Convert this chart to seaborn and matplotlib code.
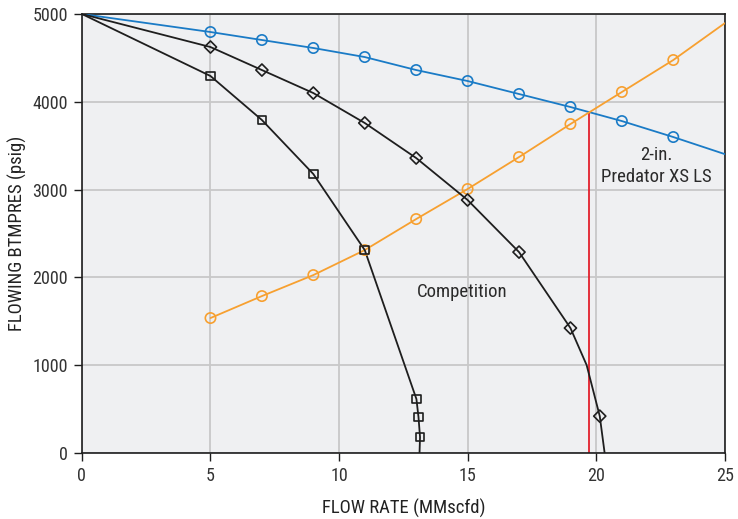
import matplotlib
matplotlib.use("Agg")
import matplotlib.pyplot as plt
import seaborn as sns
import pandas as pd
from matplotlib import font_manager

# ---- data ----
blue_x = [0, 5, 7, 9, 11, 13, 15, 17, 19, 21, 23, 25]
blue_y = [5000, 4795, 4704, 4613, 4510, 4362, 4237, 4089, 3941, 3781, 3599, 3405]
blue_marked = [False, True, True, True, True, True, True, True, True, True, True, False]

orange_x = [5, 7, 9, 11, 13, 15, 17, 19, 21, 23, 25]
orange_y = [1538, 1788, 2027, 2312, 2665, 3007, 3371, 3747, 4112, 4476, 4895]
orange_marked = [True, True, True, True, True, True, True, True, True, True, False]

diamond_x = [0, 5, 7, 9, 11, 13, 15, 17, 19, 19.63, 20.14, 20.33]
diamond_y = [5000, 4624, 4362, 4100, 3759, 3360, 2882, 2289, 1424, 1002, 421, 0]
diamond_marked = [False, True, True, True, True, True, True, True, True, False, True, False]

square_x = [0, 5, 7, 9, 11, 13.01, 13.09, 13.15, 13.13]
square_y = [5000, 4294, 3793, 3178, 2312, 615, 410, 182, 0]
square_marked = [False, True, True, True, True, True, True, True, False]

red_x = [19.73, 19.73]
red_y = [0, 3884]

x_ticks = [0, 5, 10, 15, 20, 25]
y_ticks = [0, 1000, 2000, 3000, 4000, 5000]
x_label = "FLOW RATE (MMscfd)"
y_label = "FLOWING BTMPRES (psig)"
annotations = [("Competition", 14.8, 1840), ("2-in.\nPredator XS LS", 22.35, 3270)]

# ---- style ----
sns.set_theme(style="whitegrid")

# pick a condensed sans font if one is installed
fam, stretch = "Liberation Sans", "normal"
entries = font_manager.fontManager.ttflist
names = {f.name for f in entries}
found = False
for cand in ["Liberation Sans Narrow", "Roboto Condensed", "Open Sans Condensed",
             "Noto Sans Condensed", "DejaVu Sans Condensed"]:
    if cand in names:
        fam, found = cand, True
        break
if not found:
    for f in entries:
        if f.name in ("Roboto", "Noto Sans", "Open Sans", "DejaVu Sans", "Liberation Sans") \
                and str(f.stretch) in ("condensed", "semi-condensed", "500", "400", "300") \
                and f.style == "normal" and f.weight in (400, "normal"):
            fam, stretch = f.name, f.stretch
            found = True
            break
plt.rcParams["font.family"] = [fam, "DejaVu Sans"]
plt.rcParams["font.stretch"] = stretch

BLUE = "#1a7bc6"
ORANGE = "#f7a030"
BLACK = "#1e1e1e"
RED = "#e2202c"

fig = plt.figure(figsize=(7.38, 5.19), dpi=100)
ax = fig.add_axes([0.111, 0.127, 0.871, 0.846])
ax.set_facecolor("#eff0f2")

def series(xs, ys, marked, color, marker, ms):
    df = pd.DataFrame({"x": xs, "y": ys, "m": marked})
    sns.lineplot(data=df, x="x", y="y", sort=False, estimator=None, color=color,
                 linewidth=1.3, ax=ax, zorder=3)
    dm = df[df["m"]]
    sns.scatterplot(data=dm, x="x", y="y", marker=marker, s=ms, facecolor="none",
                    edgecolor=color, linewidth=1.2, ax=ax, zorder=4)

series(blue_x, blue_y, blue_marked, BLUE, "o", 55)
series(orange_x, orange_y, orange_marked, ORANGE, "o", 55)
series(diamond_x, diamond_y, diamond_marked, BLACK, "D", 38)
series(square_x, square_y, square_marked, BLACK, "s", 40)
red_df = pd.DataFrame({"x": red_x, "y": red_y})
sns.lineplot(data=red_df, x="x", y="y", sort=False, estimator=None, color=RED,
             linewidth=1.3, ax=ax, zorder=2)

for txt, tx, ty in annotations:
    ax.text(tx, ty, txt, ha="center", va="center", fontsize=13.5, color="#2a2a2a", zorder=5,
            linespacing=1.3)

ax.set_xlim(0, 25)
ax.set_ylim(0, 5000)
ax.set_xticks(x_ticks)
ax.set_yticks(y_ticks)
ax.grid(True, color="#c8c8c8", linewidth=1.3)
ax.set_axisbelow(True)
for s in ax.spines.values():
    s.set_color("#1e1e1e")
    s.set_linewidth(1.2)
ax.tick_params(axis="both", direction="out", length=6, width=1, color="#1e1e1e",
               labelsize=13, labelcolor="#333333", bottom=True, left=True, pad=4)
ax.set_xlabel(x_label, fontsize=13.5, color="#222222", labelpad=10)
ax.set_ylabel(y_label, fontsize=13.5, color="#222222", labelpad=4)

fig.savefig("out.png", dpi=100)
